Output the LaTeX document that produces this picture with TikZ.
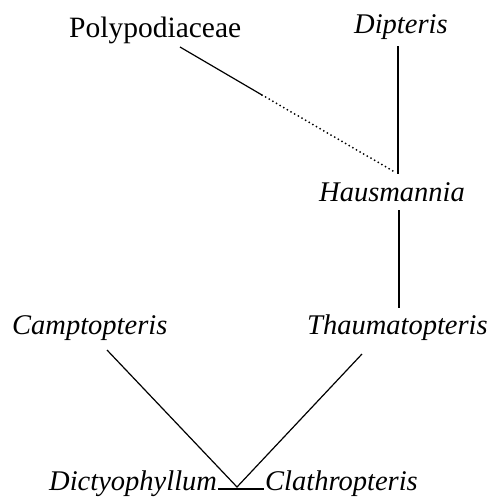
\documentclass[tikz,border=0pt]{standalone}
\usepackage{fontspec}
\setmainfont{Liberation Serif}
\begin{document}
\begin{tikzpicture}[x=1pt,y=-1pt,
  lbl/.style={inner sep=0pt,anchor=base west,font=\fontsize{29.5}{31}\selectfont},
  taxon/.style={inner sep=0pt,anchor=base west,font=\fontsize{28.5}{30}\selectfont\itshape},
  link/.style={line width=1.2pt},
  dotlink/.style={line width=2pt,line cap=round,dash pattern=on 0pt off 4.2pt}]
\useasboundingbox (0,0) rectangle (489,501);
\node[lbl]   (poly) at (69,37)  {Polypodiaceae};
\node[taxon] (dip)  at (354,33) {Dipteris};
\node[taxon] (haus) at (319,201) {Hausmannia};
\node[taxon] (camp) at (12,334) {Camptopteris};
\node[taxon] (thau) at (307,334) {Thaumatopteris};
\node[taxon] (dict) at (49,490) {Dictyophyllum};
\node[taxon] (clat) at (265,490) {Clathropteris};
\coordinate (polyA) at (180,47);
\coordinate (polyB) at (262,95);
\coordinate (joinH) at (393,171);
\coordinate (dipB)  at (398,46);
\coordinate (hausT) at (398,174);
\coordinate (hausB) at (399,210);
\coordinate (thauT) at (399,308);
\coordinate (campB) at (107,350);
\coordinate (thauB) at (362,354);
\coordinate (vtx)   at (237,487);
\draw[link] (polyA) -- (polyB);
\draw[dotlink] (polyB) -- (joinH);
\draw[link] (dipB) -- (hausT);
\draw[link] (hausB) -- (thauT);
\draw[link] (campB) -- (vtx) -- (thauB);
\draw[link] (dict.base east) ++(1pt,1pt) -- ([shift={(-1pt,1pt)}]clat.base west);
\end{tikzpicture}
\end{document}
